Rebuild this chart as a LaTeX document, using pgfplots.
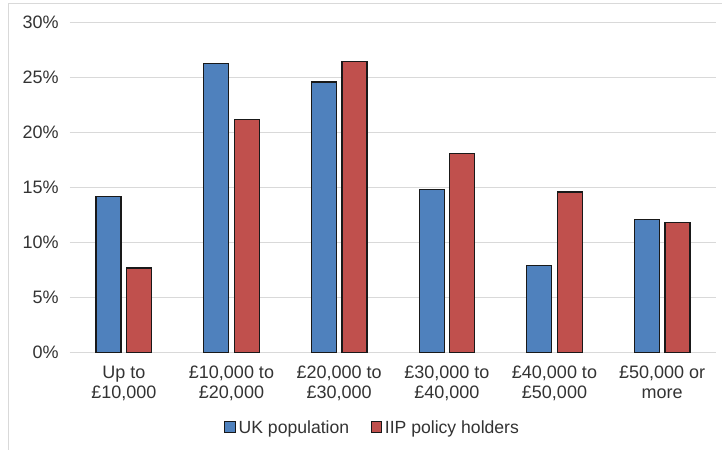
\documentclass[border=0pt]{standalone}
\usepackage{pgfplots}
\pgfplotsset{compat=1.18}
\usepackage{fontspec}
\setmainfont{Liberation Sans}
\definecolor{ukblue}{HTML}{4F81BD}
\definecolor{iipred}{HTML}{C0504D}
\definecolor{gridgray}{HTML}{D9D9D9}
\definecolor{textgray}{HTML}{333333}
\pgfplotsset{sqlegend/.style={legend image code/.code={\draw[##1,line width=0.75pt] (0pt,-3.4pt) rectangle (8pt,4.6pt);}}}
\begin{document}
\begin{tikzpicture}[x=0.75pt,y=0.75pt]
\useasboundingbox (0,0) rectangle (722,450);
\draw[gridgray, line width=0.75pt] (8.7,0) -- (8.7,446) -- (722,446);
\begin{axis}[
 at={(52.5pt,73pt)}, anchor=south west,
 scale only axis, width=484.5pt, height=247.5pt,
 ybar=4.1pt, bar width=18.75pt,
 xmin=-0.5, xmax=5.5, ymin=0, ymax=30,
 xtick={0,1,2,3,4,5},
 xticklabels={{Up to\\£10,000},{£10,000 to\\£20,000},{£20,000 to\\£30,000},{£30,000 to\\£40,000},{£40,000 to\\£50,000},{£50,000 or\\more}},
 ytick={0,5,10,15,20,25,30},
 yticklabel={\pgfmathprintnumber{\tick}\%},
 ymajorgrids, grid style={gridgray, line width=0.75pt},
 axis line style={draw=none},
 major tick length=0pt,
 tick label style={font=\fontsize{13.5}{15}\selectfont, text=textgray},
 xticklabel style={align=center, yshift=-6.5pt},
 yticklabel style={xshift=-5pt},
 /pgf/number format/assume math mode=true,
 legend columns=2,
 legend style={draw=none, at={(0.469,-0.228)}, anchor=center, font=\fontsize{13.2}{15}\selectfont, text=textgray,
   /tikz/every odd column/.append style={column sep=0pt},
   /tikz/every even column/.append style={column sep=14pt}},
]
\addplot[fill=ukblue, draw=black!90, line width=0.9pt, sqlegend] coordinates {(0,14.2) (1,26.3) (2,24.6) (3,14.8) (4,7.9) (5,12.1)};
\addplot[fill=iipred, draw=black!90, line width=0.9pt, sqlegend] coordinates {(0,7.7) (1,21.2) (2,26.5) (3,18.1) (4,14.6) (5,11.8)};
\legend{UK population, IIP policy holders}
\end{axis}
\end{tikzpicture}
\end{document}
